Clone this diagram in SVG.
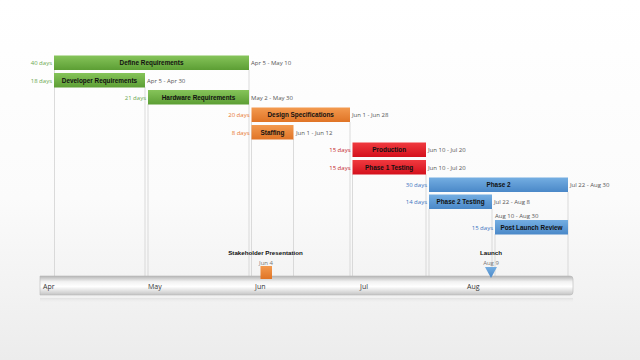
<svg xmlns="http://www.w3.org/2000/svg" width="640" height="360" viewBox="0 0 640 360">
<defs>
<linearGradient id="bg" x1="0" y1="0" x2="0" y2="1"><stop offset="0" stop-color="#ffffff"/><stop offset="0.55" stop-color="#fbfbfb"/><stop offset="1" stop-color="#ececec"/></linearGradient>
<linearGradient id="gG" x1="0" y1="0" x2="0" y2="1"><stop offset="0" stop-color="#86c45a"/><stop offset="1" stop-color="#5c9e34"/></linearGradient>
<linearGradient id="gO" x1="0" y1="0" x2="0" y2="1"><stop offset="0" stop-color="#f39a4f"/><stop offset="1" stop-color="#e07426"/></linearGradient>
<linearGradient id="gR" x1="0" y1="0" x2="0" y2="1"><stop offset="0" stop-color="#f03a3f"/><stop offset="1" stop-color="#d4101c"/></linearGradient>
<linearGradient id="gB" x1="0" y1="0" x2="0" y2="1"><stop offset="0" stop-color="#74aee2"/><stop offset="1" stop-color="#4a88c8"/></linearGradient>
<linearGradient id="tl" x1="0" y1="0" x2="0" y2="1"><stop offset="0" stop-color="#b5b5b5"/><stop offset="0.3" stop-color="#f2f2f2"/><stop offset="0.55" stop-color="#ffffff"/><stop offset="1" stop-color="#c4c4c4"/></linearGradient>
<linearGradient id="sh" x1="0" y1="0" x2="0" y2="1"><stop offset="0" stop-color="#e2e2e2"/><stop offset="1" stop-color="#f6f6f6" stop-opacity="0"/></linearGradient>
</defs>
<style>
text{font-family:"Open Sans","Liberation Sans",sans-serif;}
.bl{font-family:"Liberation Sans",Arial,sans-serif;font-size:6.4px;font-weight:bold;fill:#111;text-anchor:middle;}
.dt{font-size:6px;fill:#555;}
.du{font-size:6px;text-anchor:end;}
.g{fill:#6aa84f}.o{fill:#e8772e}.r{fill:#c4262e}.b{fill:#3d72c0}
.grid line{stroke:#d2d2d2;stroke-width:0.8;}
.mo{font-size:7px;fill:#333;}
.ms{font-family:"Liberation Sans",Arial,sans-serif;font-size:6.2px;font-weight:bold;fill:#111;text-anchor:middle;}
.md{font-size:6px;fill:#777;text-anchor:middle;}
</style>
<rect width="640" height="360" fill="url(#bg)"/>
<g id="connectors" class="grid">
<line x1="54.5" y1="70" x2="54.5" y2="276"/>
<line x1="145" y1="87" x2="145" y2="276"/>
<line x1="148" y1="104" x2="148" y2="276"/>
<line x1="249" y1="70" x2="249" y2="276"/>
<line x1="251.5" y1="122" x2="251.5" y2="276"/>
<line x1="293.5" y1="139" x2="293.5" y2="276"/>
<line x1="350" y1="122" x2="350" y2="276"/>
<line x1="352.5" y1="174" x2="352.5" y2="276"/>
<line x1="426" y1="174" x2="426" y2="276"/>
<line x1="429" y1="209" x2="429" y2="276"/>
<line x1="492" y1="209" x2="492" y2="276"/>
<line x1="495" y1="234" x2="495" y2="276"/>
<line x1="568" y1="192" x2="568" y2="276"/>
</g>
<g id="timeline">
<rect x="40" y="298" width="533" height="6" fill="url(#sh)"/>
<path d="M40 276 H570 Q573 276 573 279 V292 Q573 295 570 295 H40 Z" fill="url(#tl)" stroke="#b8b8b8" stroke-width="0.6"/>
<text class="mo" x="43" y="289">Apr</text>
<text class="mo" x="148" y="289">May</text>
<text class="mo" x="255" y="289">Jun</text>
<text class="mo" x="360" y="289">Jul</text>
<text class="mo" x="467" y="289">Aug</text>
</g>
<g id="task-define-requirements">
<rect x="54" y="55.5" width="195" height="14.5" fill="url(#gG)"/>
<text class="bl" x="151.5" y="65.2">Define Requirements</text>
<text class="du g" x="52" y="65">40 days</text>
<text class="dt" x="251" y="65">Apr 5 - May 10</text>
</g>
<g id="task-developer-requirements">
<rect x="54" y="73" width="91" height="14.5" fill="url(#gG)"/>
<text class="bl" x="99.5" y="82.7">Developer Requirements</text>
<text class="du g" x="52" y="82.5">18 days</text>
<text class="dt" x="147" y="82.5">Apr 5 - Apr 30</text>
</g>
<g id="task-hardware-requirements">
<rect x="148" y="90" width="101" height="14.5" fill="url(#gG)"/>
<text class="bl" x="198.5" y="99.7">Hardware Requirements</text>
<text class="du g" x="146" y="99.5">21 days</text>
<text class="dt" x="251" y="99.5">May 2 - May 30</text>
</g>
<g id="task-design-specifications">
<rect x="251.5" y="107.5" width="98.5" height="14.5" fill="url(#gO)"/>
<text class="bl" x="300.7" y="117.2">Design Specifications</text>
<text class="du o" x="249.5" y="117">20 days</text>
<text class="dt" x="352" y="117">Jun 1 - Jun 28</text>
</g>
<g id="task-staffing">
<rect x="251.5" y="125" width="42" height="14.5" fill="url(#gO)"/>
<text class="bl" x="272.5" y="134.7">Staffing</text>
<text class="du o" x="249.5" y="134.5">8 days</text>
<text class="dt" x="296" y="134.5">Jun 1 - Jun 12</text>
</g>
<g id="task-production">
<rect x="352.5" y="142.5" width="73.5" height="14.5" fill="url(#gR)"/>
<text class="bl" x="389.2" y="152.2">Production</text>
<text class="du r" x="350.5" y="152">15 days</text>
<text class="dt" x="428" y="152">Jun 10 - Jul 20</text>
</g>
<g id="task-phase-1-testing">
<rect x="352.5" y="160" width="73.5" height="14.5" fill="url(#gR)"/>
<text class="bl" x="389.2" y="169.7">Phase 1 Testing</text>
<text class="du r" x="350.5" y="169.5">15 days</text>
<text class="dt" x="428" y="169.5">Jun 10 - Jul 20</text>
</g>
<g id="task-phase-2">
<rect x="429" y="177.5" width="139" height="14.5" fill="url(#gB)"/>
<text class="bl" x="498.5" y="187.2">Phase 2</text>
<text class="du b" x="427" y="187">30 days</text>
<text class="dt" x="570" y="187">Jul 22 - Aug 30</text>
</g>
<g id="task-phase-2-testing">
<rect x="429" y="194.5" width="63" height="14.5" fill="url(#gB)"/>
<text class="bl" x="460.5" y="204.2">Phase 2 Testing</text>
<text class="du b" x="427" y="204">14 days</text>
<text class="dt" x="494" y="204">Jul 22 - Aug 8</text>
</g>
<g id="task-post-launch-review">
<rect x="495" y="220" width="73" height="14.5" fill="url(#gB)"/>
<text class="bl" x="531.5" y="229.7">Post Launch Review</text>
<text class="du b" x="493" y="229.5">15 days</text>
<text class="dt" x="495" y="217.5">Aug 10 - Aug 30</text>
</g>
<g id="milestone-stakeholder-presentation">
<text class="ms" x="265.5" y="254.5">Stakeholder Presentation</text>
<text class="md" x="266" y="264.5">Jun 4</text>
<rect x="260.5" y="266" width="11.5" height="13" fill="url(#gO)"/>
</g>
<g id="milestone-launch">
<text class="ms" x="491" y="254.5">Launch</text>
<text class="md" x="491" y="264.5">Aug 9</text>
<path d="M485 267 H497 L491 278 Z" fill="url(#gB)"/>
</g>
</svg>
